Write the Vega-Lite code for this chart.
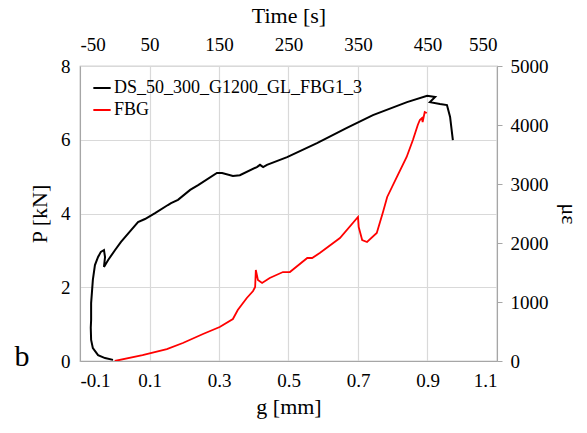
{
  "$schema": "https://vega.github.io/schema/vega-lite/v6.json",
  "autosize": {"type": "none"},
  "padding": {"left": 80, "top": 66, "right": 90, "bottom": 72},
  "width": 417,
  "height": 295,
  "background": "white",
  "config": {
    "font": "Liberation Serif",
    "view": {"stroke": "#a6a6a6", "strokeWidth": 1.2},
    "axis": {
      "labelFont": "Liberation Serif",
      "titleFont": "Liberation Serif",
      "labelFontSize": 19,
      "titleFontSize": 22,
      "labelColor": "#000000",
      "titleColor": "#000000",
      "titleFontWeight": "normal",
      "domainColor": "#a6a6a6",
      "gridColor": "#d9d9d9",
      "gridWidth": 1.2,
      "tickColor": "#a6a6a6"
    },
    "legend": {
      "labelFont": "Liberation Serif",
      "labelFontSize": 18,
      "labelColor": "#000000",
      "labelLimit": 0
    }
  },
  "title": {
    "text": "b",
    "orient": "left",
    "anchor": "start",
    "frame": "group",
    "angle": 0,
    "baseline": "alphabetic",
    "dx": 7,
    "dy": 5,
    "fontSize": 30,
    "fontWeight": "normal",
    "font": "Liberation Serif",
    "color": "#000000",
    "offset": 6
  },
  "datasets": {
    "ds": [
      {"g": -0.005, "P": 0.03}, {"g": -0.028, "P": 0.08}, {"g": -0.048, "P": 0.16}, {"g": -0.063, "P": 0.35},
      {"g": -0.068, "P": 0.57}, {"g": -0.069, "P": 0.9}, {"g": -0.068, "P": 1.11}, {"g": -0.068, "P": 1.57},
      {"g": -0.063, "P": 2.2}, {"g": -0.057, "P": 2.6}, {"g": -0.048, "P": 2.82}, {"g": -0.04, "P": 2.96},
      {"g": -0.031, "P": 3.01}, {"g": -0.028, "P": 2.82}, {"g": -0.031, "P": 2.55}, {"g": -0.019, "P": 2.74},
      {"g": 0.001, "P": 3.01}, {"g": 0.018, "P": 3.23}, {"g": 0.047, "P": 3.55}, {"g": 0.067, "P": 3.77},
      {"g": 0.087, "P": 3.85}, {"g": 0.116, "P": 4.01}, {"g": 0.153, "P": 4.23}, {"g": 0.162, "P": 4.28},
      {"g": 0.182, "P": 4.37}, {"g": 0.217, "P": 4.64}, {"g": 0.24, "P": 4.77}, {"g": 0.294, "P": 5.1},
      {"g": 0.309, "P": 5.1}, {"g": 0.34, "P": 5.02}, {"g": 0.36, "P": 5.04}, {"g": 0.409, "P": 5.26},
      {"g": 0.418, "P": 5.32}, {"g": 0.427, "P": 5.26}, {"g": 0.438, "P": 5.32}, {"g": 0.496, "P": 5.53},
      {"g": 0.582, "P": 5.91}, {"g": 0.668, "P": 6.32}, {"g": 0.743, "P": 6.67}, {"g": 0.841, "P": 7.02},
      {"g": 0.899, "P": 7.19}, {"g": 0.922, "P": 7.16}, {"g": 0.907, "P": 7.02}, {"g": 0.936, "P": 6.97},
      {"g": 0.956, "P": 6.94}, {"g": 0.965, "P": 6.62}, {"g": 0.973, "P": 5.99}
    ],
    "fbg": [
      {"t": 0, "e": 0}, {"t": 40, "e": 100}, {"t": 75, "e": 203}, {"t": 98, "e": 305}, {"t": 127, "e": 458},
      {"t": 151, "e": 576}, {"t": 170, "e": 712}, {"t": 177, "e": 864}, {"t": 190, "e": 1068}, {"t": 199, "e": 1186},
      {"t": 202, "e": 1254}, {"t": 203, "e": 1542}, {"t": 206, "e": 1373}, {"t": 212, "e": 1322}, {"t": 223, "e": 1407},
      {"t": 242, "e": 1508}, {"t": 252, "e": 1508}, {"t": 277, "e": 1746}, {"t": 284, "e": 1746}, {"t": 295, "e": 1830},
      {"t": 324, "e": 2085}, {"t": 350, "e": 2441}, {"t": 351, "e": 2271}, {"t": 356, "e": 2051}, {"t": 363, "e": 2017},
      {"t": 377, "e": 2170}, {"t": 386, "e": 2525}, {"t": 392, "e": 2780}, {"t": 406, "e": 3119}, {"t": 420, "e": 3458},
      {"t": 429, "e": 3746}, {"t": 436, "e": 4000}, {"t": 439, "e": 4085}, {"t": 442, "e": 4119}, {"t": 443, "e": 4050},
      {"t": 446, "e": 4220}, {"t": 449, "e": 4203}
    ]
  },
  "layer": [
    {
      "data": {"name": "ds"},
      "mark": {"type": "line", "strokeWidth": 2, "clip": true},
      "encoding": {
        "x": {
          "field": "g", "type": "quantitative",
          "scale": {"domain": [-0.1, 1.1], "nice": false, "zero": false},
          "axis": {
            "orient": "bottom", "title": "g [mm]",
            "values": [-0.1, 0.1, 0.3, 0.5, 0.7, 0.9, 1.1],
            "labelExpr": "datum.value < 0 ? '-' + format(-datum.value, '.1f') : format(datum.value, '.1f')",
            "labelFont": "Liberation Serif", "titleFont": "Liberation Serif",
            "grid": true, "ticks": false, "tickSize": 0,
            "labelPadding": 10, "titlePadding": 6
          }
        },
        "y": {
          "field": "P", "type": "quantitative",
          "scale": {"domain": [0, 8], "nice": false},
          "axis": {
            "orient": "left", "title": "P [kN]",
            "values": [0, 2, 4, 6, 8],
            "labelFont": "Liberation Serif", "titleFont": "Liberation Serif",
            "grid": true, "ticks": false, "tickSize": 0,
            "labelPadding": 10, "titlePadding": 9
          }
        },
        "color": {
          "datum": "DS_50_300_G1200_GL_FBG1_3", "type": "nominal",
          "scale": {"domain": ["DS_50_300_G1200_GL_FBG1_3", "FBG"], "range": ["#000000", "#ff0000"]},
          "legend": {
            "title": null, "orient": "top-left", "offset": 12,
            "symbolType": "stroke", "symbolSize": 300, "symbolStrokeWidth": 2,
            "rowPadding": 3, "padding": 0, "labelOffset": 2, "labelLimit": 400
          }
        },
        "order": {"value": null}
      }
    },
    {
      "data": {"name": "fbg"},
      "mark": {"type": "line", "strokeWidth": 1.8, "clip": true},
      "encoding": {
        "x": {
          "field": "t", "type": "quantitative",
          "scale": {"domain": [-50, 550], "nice": false, "zero": false},
          "axis": {
            "orient": "top", "title": "Time [s]",
            "values": [-50, 50, 150, 250, 350, 450, 550],
            "labelExpr": "datum.value < 0 ? '-' + format(-datum.value, 'd') : format(datum.value, 'd')",
            "labelFont": "Liberation Serif", "titleFont": "Liberation Serif",
            "grid": false, "ticks": false, "tickSize": 0, "domain": false,
            "labelPadding": 12, "titlePadding": 8
          }
        },
        "y": {
          "field": "e", "type": "quantitative",
          "scale": {"domain": [0, 5000], "nice": false},
          "axis": {
            "orient": "right", "title": "με",
            "values": [0, 1000, 2000, 3000, 4000, 5000],
            "format": "d",
            "labelFont": "Liberation Serif", "titleFont": "Liberation Serif",
            "grid": false, "ticks": true, "tickSize": 5,
            "labelPadding": 8, "titlePadding": 8
          }
        },
        "color": {"datum": "FBG", "type": "nominal"},
        "order": {"value": null}
      }
    }
  ],
  "resolve": {"scale": {"x": "independent", "y": "independent"}}
}
